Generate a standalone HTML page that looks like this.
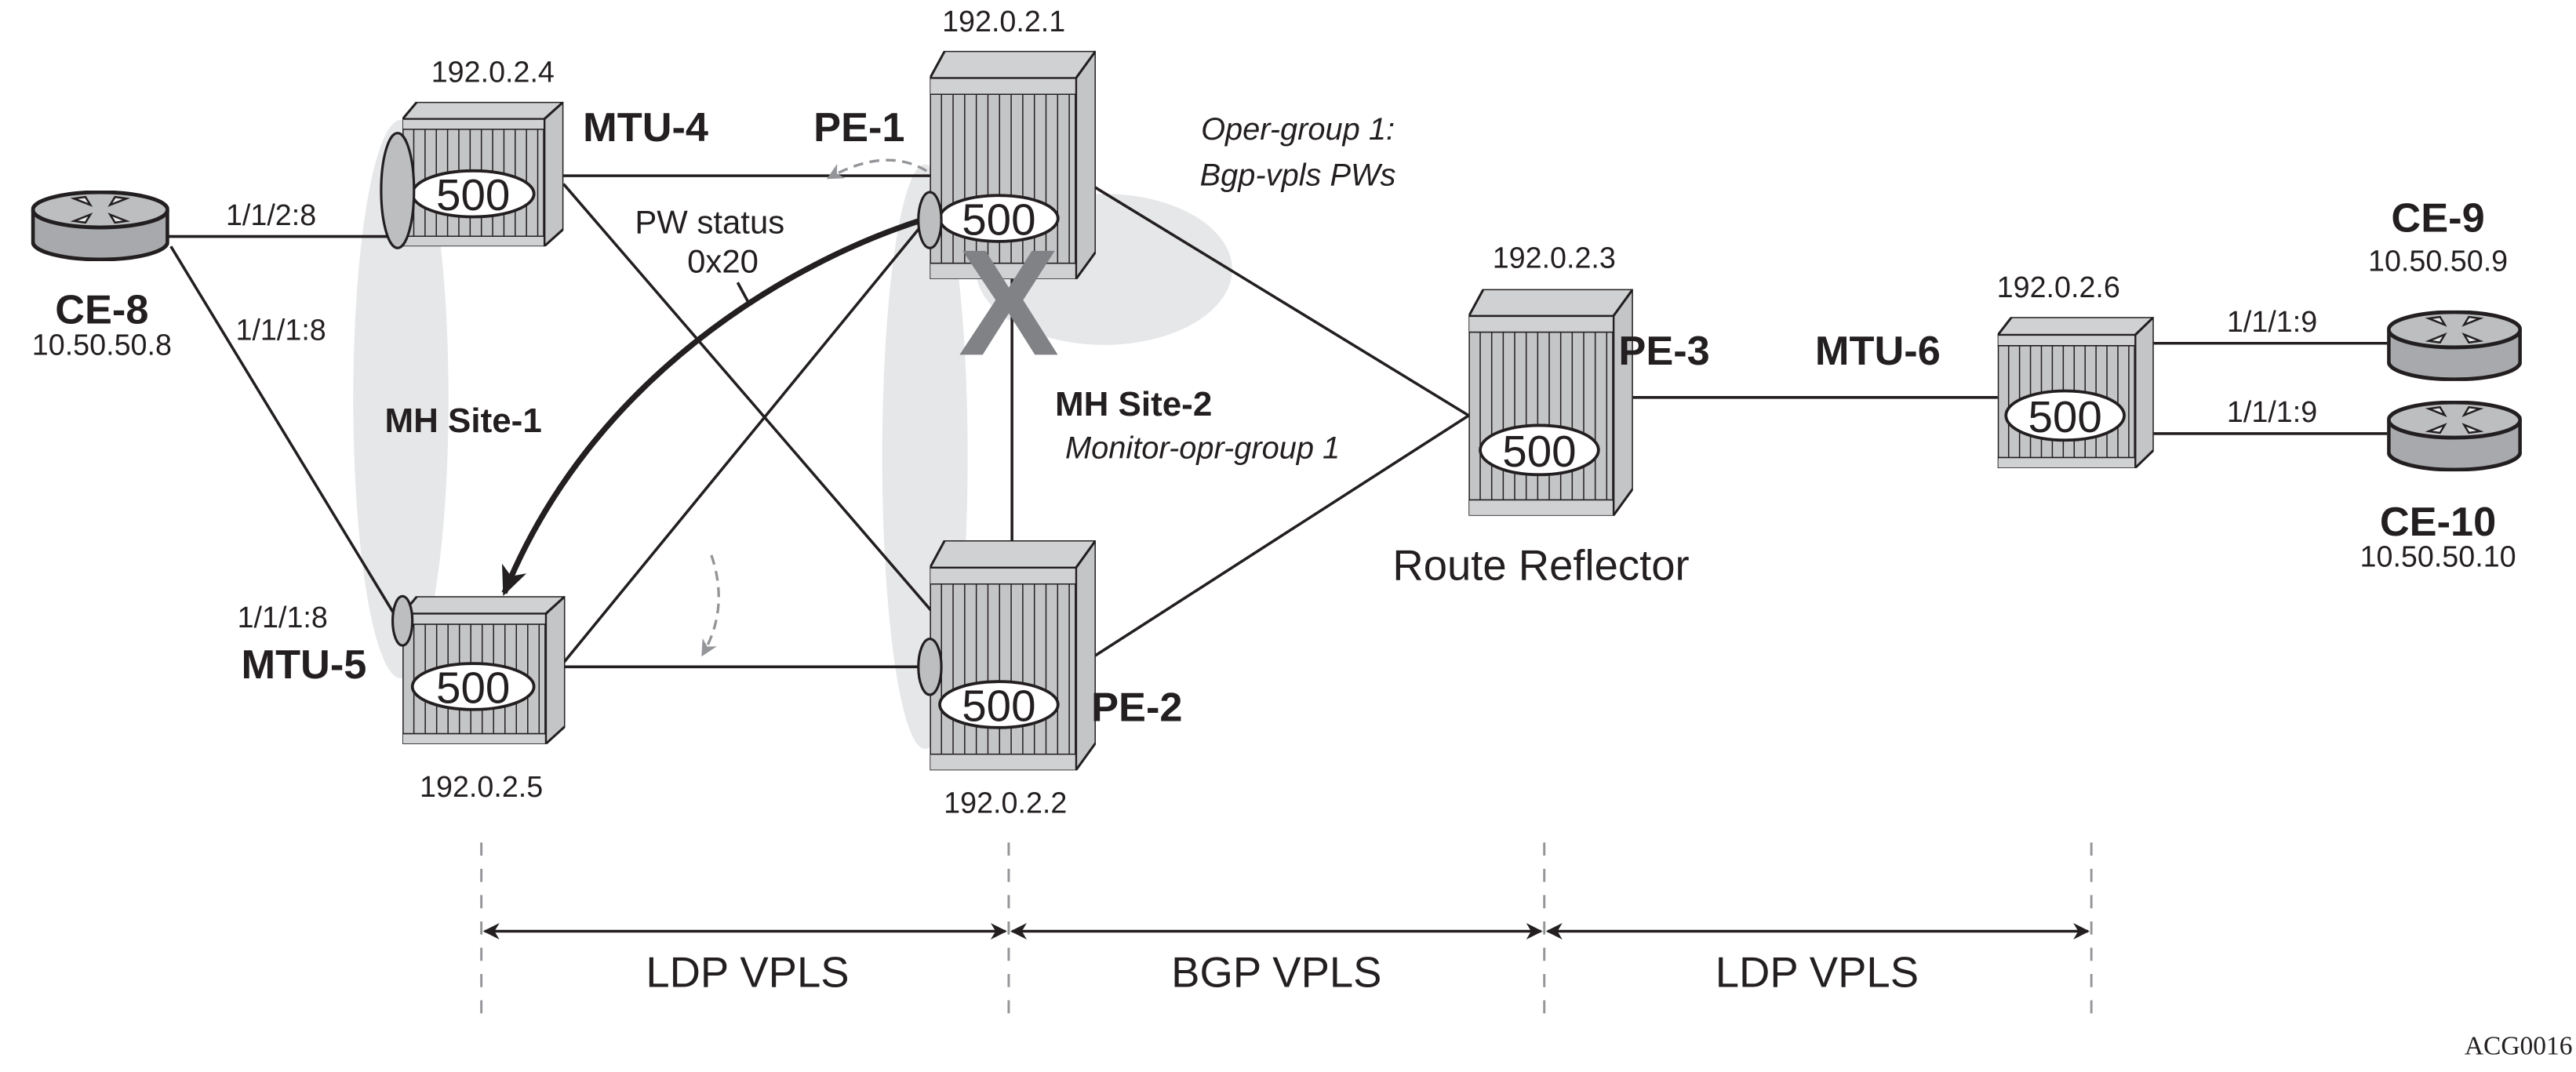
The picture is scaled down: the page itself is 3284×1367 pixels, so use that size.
<!DOCTYPE html>
<html><head><meta charset="utf-8"><style>
html,body{margin:0;padding:0;background:#fff}
svg{display:block}
text{font-family:"Liberation Sans",sans-serif;fill:#231f20}
.b{font-weight:bold;font-size:25px}
.n{font-size:18px}
.i{font-style:italic;font-size:19px}
</style></head><body>
<svg width="3284" height="1367" viewBox="0 0 1568 652.7" preserveAspectRatio="none" xmlns="http://www.w3.org/2000/svg">
<defs>
<symbol id="dev" viewBox="0 0 100 100" preserveAspectRatio="none">
<polygon points="0,12 9,0 100,0 88,12" fill="#d0d1d3" stroke="#231f20" stroke-width="3" vector-effect="non-scaling-stroke" stroke-linejoin="round"/>
<polygon points="88,12 100,0 100,88 88,100" fill="#c4c5c7" stroke="#231f20" stroke-width="3" vector-effect="non-scaling-stroke" stroke-linejoin="round"/>
<rect x="0" y="12" width="88" height="88" fill="#c4c5c7" stroke="#231f20" stroke-width="3" vector-effect="non-scaling-stroke"/>
<rect x="0" y="12" width="88" height="7" fill="#d0d1d3" stroke="#231f20" stroke-width="1.6" vector-effect="non-scaling-stroke"/>
<rect x="0" y="93" width="88" height="7" fill="#d0d1d3" stroke="#231f20" stroke-width="1.6" vector-effect="non-scaling-stroke"/>
<g stroke="#231f20">
<line x1="7" y1="19" x2="7" y2="93" stroke-width="1.5" vector-effect="non-scaling-stroke"/><line x1="14" y1="19" x2="14" y2="93" stroke-width="1.5" vector-effect="non-scaling-stroke"/><line x1="21" y1="19" x2="21" y2="93" stroke-width="1.5" vector-effect="non-scaling-stroke"/><line x1="28" y1="19" x2="28" y2="93" stroke-width="1.5" vector-effect="non-scaling-stroke"/><line x1="35" y1="19" x2="35" y2="93" stroke-width="1.5" vector-effect="non-scaling-stroke"/><line x1="42" y1="19" x2="42" y2="93" stroke-width="1.5" vector-effect="non-scaling-stroke"/><line x1="49" y1="19" x2="49" y2="93" stroke-width="1.5" vector-effect="non-scaling-stroke"/><line x1="56" y1="19" x2="56" y2="93" stroke-width="1.5" vector-effect="non-scaling-stroke"/><line x1="63" y1="19" x2="63" y2="93" stroke-width="1.5" vector-effect="non-scaling-stroke"/><line x1="70" y1="19" x2="70" y2="93" stroke-width="1.5" vector-effect="non-scaling-stroke"/><line x1="77" y1="19" x2="77" y2="93" stroke-width="1.5" vector-effect="non-scaling-stroke"/><line x1="84" y1="19" x2="84" y2="93" stroke-width="1.5" vector-effect="non-scaling-stroke"/>
</g>
</symbol>
<symbol id="rtr" viewBox="0 0 84 44" preserveAspectRatio="none">
<path d="M1,12 L1,32 A41,11 0 0 0 83,32 L83,12" fill="#a7a9ac" stroke="#231f20" stroke-width="2.4"/>
<ellipse cx="42" cy="12" rx="41" ry="11" fill="#bcbec0" stroke="#231f20" stroke-width="2.4"/>
<g stroke="#231f20" stroke-width="1.2" fill="#e6e7e8">
<path d="M26,5 l10,4 l-3,-5 z"/><path d="M58,5 l-10,4 l3,-5 z"/><path d="M26,19 l10,-4 l-3,5 z"/><path d="M58,19 l-10,-4 l3,5 z"/>
</g>
</symbol>
<marker id="ah" markerWidth="10" markerHeight="10" refX="9" refY="5" orient="auto" markerUnits="userSpaceOnUse"><path d="M0,0 L10,5 L0,10 L3,5 z" fill="#231f20"/></marker>
<marker id="ahs" markerWidth="10" markerHeight="10" refX="1" refY="5" orient="auto" markerUnits="userSpaceOnUse"><path d="M10,0 L0,5 L10,10 L7,5 z" fill="#231f20"/></marker>
<marker id="ag" markerWidth="10" markerHeight="10" refX="8" refY="5" orient="auto" markerUnits="userSpaceOnUse"><path d="M0,0 L10,5 L0,10 L3,5 z" fill="#939598"/></marker>
<marker id="at" markerWidth="18" markerHeight="16" refX="16" refY="8" orient="auto" markerUnits="userSpaceOnUse"><path d="M0,0 L18,8 L0,16 L5,8 z" fill="#231f20"/></marker>
</defs>

<ellipse cx="244" cy="243" rx="29" ry="170" fill="#e6e7e8"/>
<ellipse cx="563" cy="278" rx="26" ry="178" fill="#e6e7e8"/>
<ellipse cx="672" cy="164" rx="78" ry="46" fill="#e6e7e8"/>

<g stroke="#231f20" stroke-width="1.7" fill="none">
<line x1="102" y1="144" x2="238" y2="144"/>
<line x1="104" y1="150" x2="240" y2="374"/>
<line x1="340" y1="107" x2="567" y2="107"/>
<line x1="343" y1="112" x2="567" y2="372"/>
<line x1="562" y1="136" x2="341" y2="406"/>
<line x1="341" y1="406" x2="560" y2="406"/>
<line x1="616" y1="170" x2="616" y2="339"/>
<line x1="655" y1="107" x2="894" y2="253"/>
<line x1="656" y1="406" x2="894" y2="253"/>
<line x1="981" y1="242" x2="1216" y2="242"/>
<line x1="1304" y1="209" x2="1453" y2="209"/>
<line x1="1304" y1="264" x2="1453" y2="264"/>
<line x1="456" y1="185" x2="449" y2="172"/>
</g>
<path d="M561,134 C480,160 360,230 307,361" stroke="#231f20" stroke-width="3.5" fill="none" marker-end="url(#at)"/>
<path d="M572,110 Q545,86 505,108" stroke="#939598" stroke-width="1.6" fill="none" stroke-dasharray="6,4" marker-end="url(#ag)"/>
<path d="M433,338 Q444,370 428,398" stroke="#939598" stroke-width="1.6" fill="none" stroke-dasharray="6,4" marker-end="url(#ag)"/>

<use href="#dev" x="245" y="62" width="98" height="88"/>
<use href="#dev" x="566" y="31" width="101" height="139"/>
<use href="#dev" x="566" y="329" width="101" height="140"/>
<use href="#dev" x="894" y="176" width="100" height="138"/>
<use href="#dev" x="1216" y="193" width="95" height="92"/>
<use href="#dev" x="245" y="363" width="99" height="90"/>

<g fill="#fff" stroke="#231f20" stroke-width="1.8">
<ellipse cx="288" cy="118" rx="37" ry="14"/>
<ellipse cx="608" cy="133" rx="36" ry="14"/>
<ellipse cx="608" cy="429" rx="36" ry="14"/>
<ellipse cx="937" cy="274" rx="36" ry="15"/>
<ellipse cx="1257" cy="253" rx="36" ry="15"/>
<ellipse cx="288" cy="418" rx="37" ry="14"/>
</g>
<g text-anchor="middle">
<text x="288" y="128" style="font-size:27px">500</text>
<text x="608" y="143" style="font-size:27px">500</text>
<text x="608" y="439" style="font-size:27px">500</text>
<text x="937" y="284" style="font-size:27px">500</text>
<text x="1257" y="263" style="font-size:27px">500</text>
<text x="288" y="428" style="font-size:27px">500</text>
</g>

<g fill="#bcbec0" stroke="#231f20" stroke-width="1.5">
<ellipse cx="242" cy="116" rx="10" ry="35"/>
<ellipse cx="566" cy="134" rx="7" ry="17"/>
<ellipse cx="566" cy="406" rx="7" ry="17"/>
<ellipse cx="245" cy="378" rx="6" ry="15"/>
</g>

<use href="#rtr" x="19" y="116" width="84" height="43"/>
<use href="#rtr" x="1453" y="189" width="82" height="43"/>
<use href="#rtr" x="1453" y="244" width="82" height="43"/>

<text x="614" y="216" text-anchor="middle" style="font-size:92px;font-weight:bold;fill:#808285">X</text>

<g text-anchor="middle">
<text class="n" x="300" y="50">192.0.2.4</text>
<text class="b" x="393" y="86">MTU-4</text>
<text class="b" x="523" y="86">PE-1</text>
<text class="n" x="611" y="19">192.0.2.1</text>
<text class="i" x="790" y="85">Oper-group 1:</text>
<text class="i" x="790" y="113">Bgp-vpls PWs</text>
<text class="n" x="946" y="163">192.0.2.3</text>
<text class="b" x="1013" y="222">PE-3</text>
<text class="b" x="1143" y="222">MTU-6</text>
<text class="n" x="1253" y="181">192.0.2.6</text>
<text class="b" x="1484" y="141">CE-9</text>
<text class="n" x="1484" y="165">10.50.50.9</text>
<text class="b" x="1484" y="326">CE-10</text>
<text class="n" x="1484" y="345">10.50.50.10</text>
<text class="n" x="1383" y="202">1/1/1:9</text>
<text class="n" x="1383" y="257">1/1/1:9</text>
<text class="b" x="690" y="253" style="font-size:21px">MH Site-2</text>
<text class="i" x="732" y="279">Monitor-opr-group 1</text>
<text class="b" x="282" y="263" style="font-size:21px">MH Site-1</text>
<text x="938" y="353" style="font-size:26px">Route Reflector</text>
<text class="b" x="692" y="439">PE-2</text>
<text class="n" x="612" y="495">192.0.2.2</text>
<text class="n" x="293" y="485">192.0.2.5</text>
<text class="n" x="172" y="382">1/1/1:8</text>
<text class="b" x="185" y="413">MTU-5</text>
<text class="n" x="165" y="137">1/1/2:8</text>
<text class="n" x="171" y="207">1/1/1:8</text>
<text class="b" x="62" y="197">CE-8</text>
<text class="n" x="62" y="216">10.50.50.8</text>
<text class="n" x="432" y="142" style="font-size:20px">PW status</text>
<text class="n" x="440" y="166" style="font-size:20px">0x20</text>
<text x="455" y="601" style="font-size:26px">LDP VPLS</text>
<text x="777" y="601" style="font-size:26px">BGP VPLS</text>
<text x="1106" y="601" style="font-size:26px">LDP VPLS</text>
<text x="1533" y="642" style="font-family:'Liberation Serif',serif;font-size:16px">ACG0016</text>
</g>

<g stroke="#939598" stroke-width="1.4" stroke-dasharray="8,8">
<line x1="293" y1="513" x2="293" y2="622"/>
<line x1="614" y1="513" x2="614" y2="622"/>
<line x1="940" y1="513" x2="940" y2="622"/>
<line x1="1273" y1="513" x2="1273" y2="622"/>
</g>
<g stroke="#231f20" stroke-width="1.7">
<line x1="295" y1="567" x2="612" y2="567" marker-start="url(#ahs)" marker-end="url(#ah)"/>
<line x1="616" y1="567" x2="938" y2="567" marker-start="url(#ahs)" marker-end="url(#ah)"/>
<line x1="942" y1="567" x2="1271" y2="567" marker-start="url(#ahs)" marker-end="url(#ah)"/>
</g>
</svg>
</body></html>
